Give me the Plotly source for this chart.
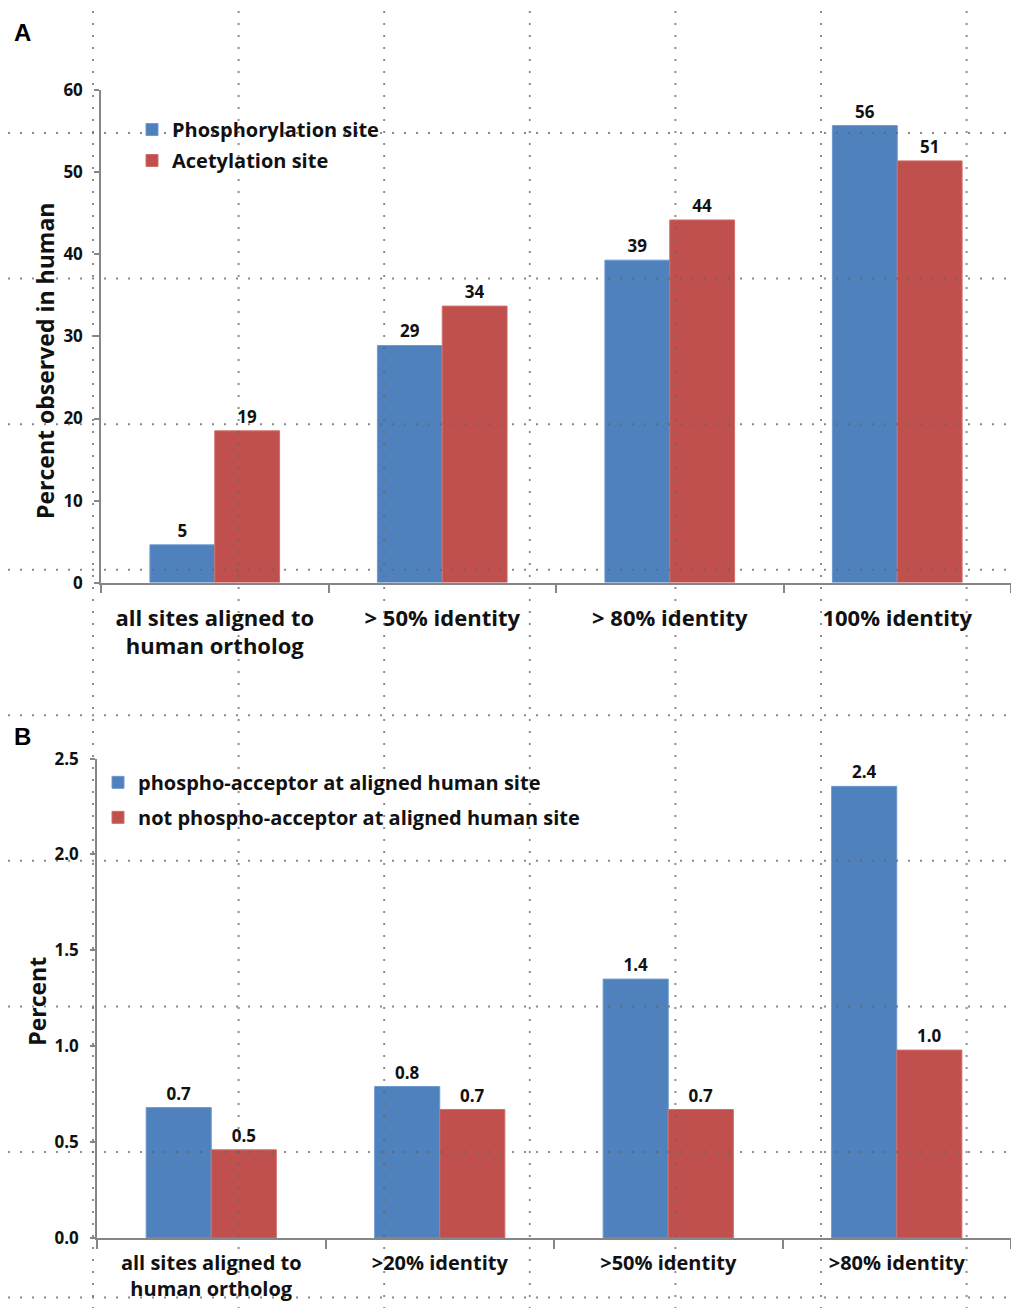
import plotly.graph_objects as go

# screenshot target size; measured page mapping: screen_x = 8 + fig_x, screen_y = 18.95 + 0.9826 * fig_y
SW, SH = 1019, 1308
OX = 8
OY, SCY = 18.95, 0.9826
W, H = SW - 2 * OX, 1303

# ---------------- data ----------------
cats_a = ["all sites aligned to<br>human ortholog", "> 50% identity", "> 80% identity", "100% identity"]
phos_a = [4.6, 28.9, 39.3, 55.7]
acet_a = [18.5, 33.7, 44.2, 51.4]
phos_a_lbl = ["5", "29", "39", "56"]
acet_a_lbl = ["19", "34", "44", "51"]

cats_b = ["all sites aligned to<br>human ortholog", ">20% identity", ">50% identity", ">80% identity"]
acc_b = [0.68, 0.79, 1.35, 2.355]
notacc_b = [0.46, 0.67, 0.67, 0.98]
acc_b_lbl = ["0.7", "0.8", "1.4", "2.4"]
notacc_b_lbl = ["0.5", "0.7", "0.7", "1.0"]

# ---------------- style ----------------
BLUE = "#4F81BD"
RED = "#C0504D"
AX = "#868686"
TXT = "#111111"
FONT = "Open Sans"


def sx(x):
    return (x - OX) / W


def sy(y):
    return 1 - ((y - OY) / SCY) / H


def px_x(x):
    return min(max(sx(x), 0.0), 1.0)


def px_y(y):
    return min(max(sy(y), 0.0), 1.0)


fig = go.Figure()

lab_font = dict(family=FONT, size=17, color=TXT, weight="bold")

fig.add_trace(go.Bar(x=cats_a, y=phos_a, name="Phosphorylation site", marker=dict(color=BLUE, line=dict(color="#6E9AD0", width=1)),
                     text=phos_a_lbl, textposition="outside", textfont=lab_font, cliponaxis=False, constraintext="none",
                     xaxis="x", yaxis="y", legend="legend", legendgroup="a1"))
fig.add_trace(go.Bar(x=cats_a, y=acet_a, name="Acetylation site", marker=dict(color=RED, line=dict(color="#D06F6C", width=1)),
                     text=acet_a_lbl, textposition="outside", textfont=lab_font, cliponaxis=False, constraintext="none",
                     xaxis="x", yaxis="y", legend="legend", legendgroup="a2"))
fig.add_trace(go.Bar(x=cats_b, y=acc_b, name="phospho-acceptor at aligned human site", marker=dict(color=BLUE, line=dict(color="#6E9AD0", width=1)),
                     text=acc_b_lbl, textposition="outside", textfont=lab_font, cliponaxis=False, constraintext="none",
                     xaxis="x2", yaxis="y2", legend="legend2", legendgroup="b1"))
fig.add_trace(go.Bar(x=cats_b, y=notacc_b, name="not phospho-acceptor at aligned human site", marker=dict(color=RED, line=dict(color="#D06F6C", width=1)),
                     text=notacc_b_lbl, textposition="outside", textfont=lab_font, cliponaxis=False, constraintext="none",
                     xaxis="x2", yaxis="y2", legend="legend2", legendgroup="b2"))

tick_font = dict(family=FONT, size=17, color=TXT, weight="bold")
cat_font_a = dict(family=FONT, size=22, color=TXT, weight="bold")
cat_font_b = dict(family=FONT, size=20, color=TXT, weight="bold")
leg_font = dict(family=FONT, size=20, color=TXT, weight="bold")

xcommon = dict(type="category", showline=True, linecolor=AX, linewidth=1.5, ticks="outside", tickson="boundaries",
               ticklen=9, tickcolor=AX, tickwidth=1.5, showgrid=False, zeroline=False)
ycommon = dict(showline=True, linecolor=AX, linewidth=1.5, ticks="outside", ticklen=5, tickcolor=AX, tickwidth=1.5,
               showgrid=False, zeroline=False, tickfont=tick_font, ticklabelstandoff=8)

fig.update_layout(
    width=W, height=H,
    margin=dict(l=0, r=0, t=0, b=0),
    paper_bgcolor="white", plot_bgcolor="rgba(0,0,0,0)",
    barmode="group", bargap=0.43, bargroupgap=0,
    font=dict(family=FONT, color=TXT),
    xaxis=dict(domain=[px_x(101), px_x(1017)], anchor="y", ticklabelstandoff=15, tickfont=cat_font_a, **xcommon),
    yaxis=dict(domain=[px_y(581.7), px_y(89.3)], anchor="x", range=[0, 60], dtick=10, **ycommon),
    xaxis2=dict(domain=[px_x(97), px_x(1017)], anchor="y2", ticklabelstandoff=6, tickfont=cat_font_b, **xcommon),
    yaxis2=dict(domain=[px_y(1237.3), px_y(757.7)], anchor="x2", range=[0, 2.5], dtick=0.5, tickformat=".1f", **ycommon),
    legend=dict(x=px_x(132), y=px_y(109), xanchor="left", yanchor="top", bgcolor="rgba(0,0,0,0)",
                font=leg_font, traceorder="grouped", tracegroupgap=2),
    legend2=dict(x=px_x(98), y=px_y(762), xanchor="left", yanchor="top", bgcolor="rgba(0,0,0,0)",
                 font=leg_font, traceorder="grouped", tracegroupgap=6),
    showlegend=True,
)

# axis titles and panel letters
title_font = dict(family=FONT, size=23, color=TXT, weight="bold")
fig.add_annotation(text="Percent observed in human", x=px_x(45), y=px_y(360), xref="paper", yref="paper",
                   xanchor="center", yanchor="middle", textangle=-90, showarrow=False, font=title_font)
fig.add_annotation(text="Percent", x=px_x(37), y=px_y(1001), xref="paper", yref="paper",
                   xanchor="center", yanchor="middle", textangle=-90, showarrow=False, font=title_font)
letter_font = dict(family="Liberation Sans", size=24, color="#000", weight="bold")
fig.add_annotation(text="A", x=px_x(22), y=px_y(31), xref="paper", yref="paper", showarrow=False,
                   xanchor="center", yanchor="middle", font=letter_font)
fig.add_annotation(text="B", x=px_x(22), y=px_y(736), xref="paper", yref="paper", showarrow=False,
                   xanchor="center", yanchor="middle", font=letter_font)

# dotted overlay grid present in the reference image
overlay_x = [93, 238.6, 384.2, 529.8, 675.4, 821, 966.6]
overlay_y = [132, 277.6, 423.2, 568.8, 714.4, 860, 1005.6, 1151.2, 1296.8]
dot = dict(color="rgba(100,100,100,0.75)", width=2, dash="2px,10px")
for xv in overlay_x:
    fig.add_shape(type="line", xref="paper", yref="paper", x0=sx(xv), x1=sx(xv), y0=sy(10), y1=sy(SH + 20),
                  line=dot, layer="above")
for yv in overlay_y:
    fig.add_shape(type="line", xref="paper", yref="paper", x0=sx(8), x1=sx(SW), y0=sy(yv), y1=sy(yv),
                  line=dot, layer="above")

fig.write_html("out.html")
